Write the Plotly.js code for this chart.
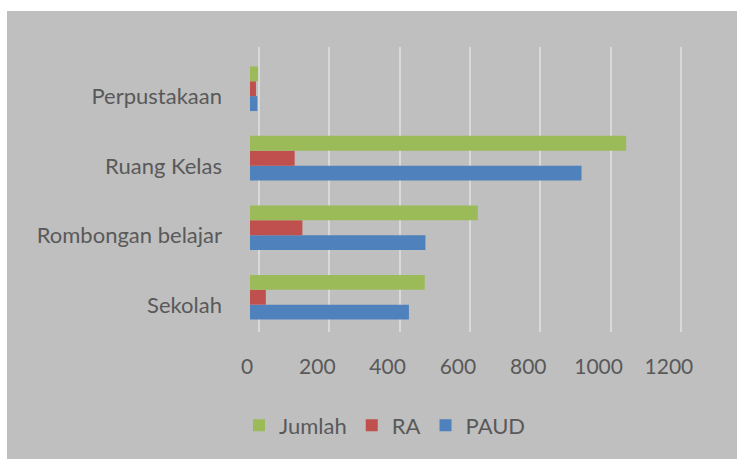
<!DOCTYPE html>
<html>
<head>
<meta charset="utf-8">
<script src="https://cdn.plot.ly/plotly-3.0.1.min.js"></script>
<style>
  html, body { margin: 0; padding: 0; background: #ffffff; }
  #chart { position: absolute; left: 7px; top: 11px; width: 730px; height: 448px; }
</style>
</head>
<body>
<div id="chart"></div>
<script>
// kategorien (von unten nach oben)
const kategorien = ["Sekolah", "Rombongan belajar", "Ruang Kelas", "Perpustakaan"];
const paud = [452, 499, 943, 21];
const ra = [45, 149, 127, 17];
const jumlah = [497, 648, 1070, 23];
const tickWerte = [0, 200, 400, 600, 800, 1000, 1200];

const schrift = "Lato, 'Open Sans', sans-serif";
const grau = "#595959";

function balken(name, werte, farbe) {
  return {
    type: "bar",
    orientation: "h",
    name: name,
    x: werte,
    y: kategorien,
    marker: { color: farbe, line: { width: 0 } },
    hoverinfo: "x+name",
  };
}

const data = [
  // unsichtbare spur, damit die zweite x-achse (gitter) gezeichnet wird
  {
    type: "scatter",
    mode: "markers",
    x: [0],
    y: [kategorien[0]],
    xaxis: "x2",
    marker: { opacity: 0 },
    showlegend: false,
    hoverinfo: "skip",
  },
  balken("PAUD", paud, "#4f81bd"),
  balken("RA", ra, "#c0504d"),
  balken("Jumlah", jumlah, "#9bbb59"),
];

const layout = {
  paper_bgcolor: "#bfbfbf",
  plot_bgcolor: "rgba(0,0,0,0)",
  font: { family: schrift, size: 22, color: grau },
  margin: { t: 36, r: 37, b: 125, l: 243 },
  barmode: "group",
  bargap: 0.357,
  bargroupgap: 0,
  xaxis: {
    range: [0, 1280],
    tickvals: tickWerte,
    showgrid: false,
    zeroline: false,
    showline: false,
    ticks: "",
    ticklabelstandoff: 20,
    ticklabelshift: -3,
    tickfont: { family: schrift, size: 21, color: grau },
  },
  // gitterlinien an der rueckwand (leicht versetzt)
  xaxis2: {
    overlaying: "x",
    anchor: "y",
    range: [-25.6, 1254.4],
    tickvals: tickWerte,
    showgrid: true,
    gridcolor: "#d9d9d9",
    gridwidth: 2,
    zeroline: false,
    showticklabels: false,
    ticks: "",
  },
  yaxis: {
    type: "category",
    categoryorder: "array",
    categoryarray: kategorien,
    range: [-0.5, 3.6],
    showgrid: false,
    zeroline: false,
    showline: false,
    ticks: "",
    ticklabelstandoff: 27,
    ticklabelshift: 8,
    tickfont: { family: schrift, size: 22, color: grau },
  },
  showlegend: true,
  legend: {
    orientation: "h",
    traceorder: "reversed",
    x: 0.3,
    xanchor: "center",
    y: -0.3275,
    yanchor: "middle",
    itemwidth: 30,
    bgcolor: "rgba(0,0,0,0)",
    font: { family: schrift, size: 22, color: grau },
  },
};

Plotly.newPlot("chart", data, layout, { displayModeBar: false, staticPlot: true });
</script>
</body>
</html>
